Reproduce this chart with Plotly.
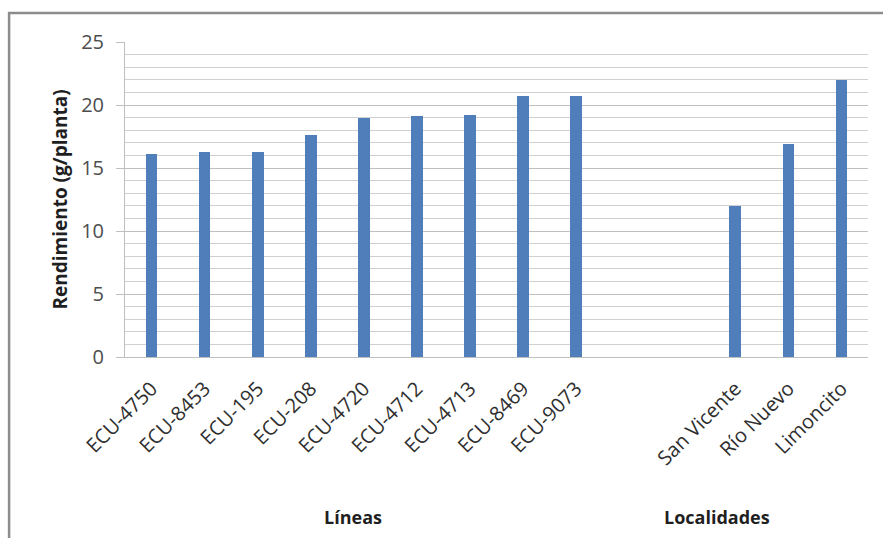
import plotly.graph_objects as go

# Yield per plant for breeding lines and for localities
lineas = ["ECU-4750", "ECU-8453", "ECU-195", "ECU-208", "ECU-4720",
          "ECU-4712", "ECU-4713", "ECU-8469", "ECU-9073"]
lineas_valores = [16.1, 16.3, 16.3, 17.6, 19.0, 19.1, 19.2, 20.7, 20.7]

localidades = ["San Vicente", "Río Nuevo", "Limoncito"]
localidades_valores = [12.0, 16.9, 22.0]

grupos = ["Líneas", "Localidades"]
y_titulo = "Rendimiento (g/planta)"

# two empty category slots separate the groups
hueco = 2
x_lineas = list(range(len(lineas)))
x_local = [len(lineas) + hueco + i for i in range(len(localidades))]
n_slots = len(lineas) + hueco + len(localidades)

color_barra = "#4F7EBB"
fuente = "Open Sans"

fig = go.Figure()
fig.add_trace(go.Bar(x=x_lineas + x_local,
                     y=lineas_valores + localidades_valores,
                     width=0.22, marker=dict(color=color_barra, line=dict(width=0)),
                     showlegend=False))

fig.update_layout(
    width=883, height=538,
    margin=dict(l=125, r=15, t=42, b=181),
    paper_bgcolor="white", plot_bgcolor="white",
    font=dict(family=fuente, color="#404040"),
    bargap=0,
)

fig.update_xaxes(
    range=[-0.5, n_slots - 0.5],
    tickmode="array",
    tickvals=x_lineas + x_local,
    ticktext=lineas + localidades,
    tickangle=-45,
    tickfont=dict(size=20, color="#2E2E2E", family=fuente),
    ticklabelstandoff=11,
    showgrid=False, zeroline=False,
    showline=True, linecolor="#BFBFBF", linewidth=1,
    ticks="",
)

fig.update_yaxes(
    range=[0, 25], dtick=5,
    tickfont=dict(size=20, color="#4D4D4D", family=fuente),
    ticklabelstandoff=8,
    showgrid=True, gridcolor="#BFBFBF", gridwidth=1,
    minor=dict(dtick=1, showgrid=True, gridcolor="#D0D0D0", gridwidth=1),
    zeroline=False,
    showline=True, linecolor="#BFBFBF", linewidth=1,
    ticks="outside", ticklen=8, tickcolor="#BFBFBF",
    title=dict(text="<b>" + y_titulo + "</b>",
               font=dict(size=19, color="#1F1F1F", family=fuente),
               standoff=8),
)

# group labels under the category labels
centros = [(x_lineas[0] + x_lineas[-1]) / 2 - 0.2, (x_local[0] + x_local[-1]) / 2 - 1.35]
for nombre, cx in zip(grupos, centros):
    fig.add_annotation(x=cx, xref="x", y=-0.508, yref="paper",
                       text="<b>" + nombre + "</b>", showarrow=False,
                       font=dict(size=18, color="#1F1F1F", family=fuente),
                       xanchor="center", yanchor="middle")

# outer chart frame (top and left edges visible)
fig.add_shape(type="rect", xref="paper", yref="paper",
              x0=-0.156, x1=1.2, y0=-0.7, y1=1.092,
              line=dict(color="#8C8C8C", width=2.5), layer="below")

fig.write_html("out.html")
